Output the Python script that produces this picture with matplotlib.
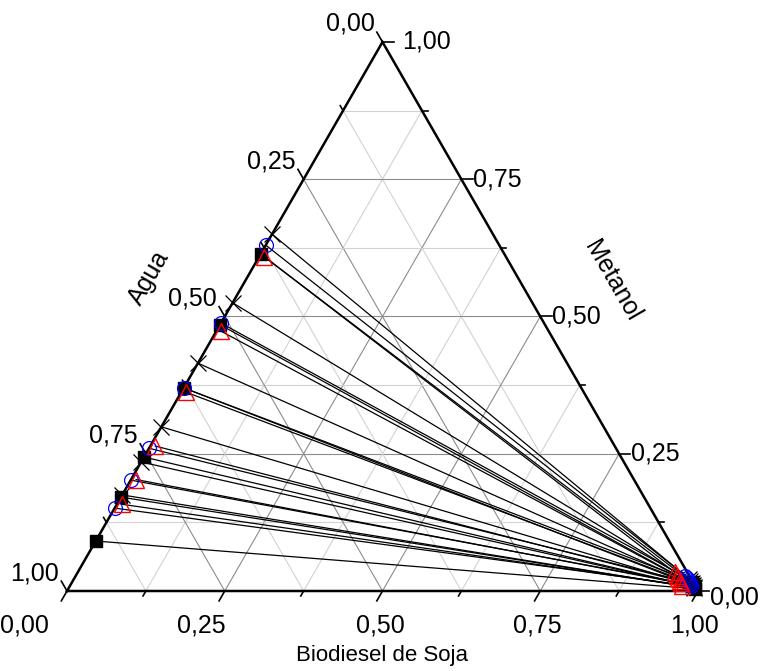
import numpy as np
import matplotlib.pyplot as plt

plt.rcParams['font.family'] = ['Liberation Sans', 'DejaVu Sans']

S3 = np.sqrt(3) / 2

# fase aquosa (lado Agua-Metanol): fracao de agua; fase biodiesel (canto direito): metanol e agua
sq_agua_esq = [0.386, 0.515, 0.630, 0.756, 0.829, 0.909]
sq_met_dir = [0.016, 0.013, 0.010, 0.008, 0.006, 0.004]
sq_agua_dir = [0.002, 0.002, 0.002, 0.002, 0.002, 0.002]

ci_agua_esq = [0.370, 0.512, 0.630, 0.740, 0.798, 0.849]
ci_met_dir = [0.028, 0.024, 0.020, 0.016, 0.012, 0.009]
ci_agua_dir = [0.006, 0.006, 0.006, 0.006, 0.006, 0.006]

tr_agua_esq = [0.383, 0.519, 0.630, 0.728, 0.789, 0.834]
tr_bio_esq = [0.008, 0.008, 0.008, 0.008, 0.008, 0.008]
tr_met_dir = [0.034, 0.028, 0.023, 0.018, 0.014, 0.010]
tr_agua_dir = [0.020, 0.020, 0.020, 0.020, 0.020, 0.020]

xx_agua_esq = [0.350, 0.475, 0.585, 0.701, 0.765, 0.825]
xx_met_dir = [0.022, 0.018, 0.014, 0.011, 0.008, 0.006]
xx_agua_dir = [0.003, 0.003, 0.003, 0.003, 0.003, 0.003]

ticks = [0.0, 0.25, 0.5, 0.75, 1.0]
tick_lab = ['0,00', '0,25', '0,50', '0,75', '1,00']


def tern(b, m):
    b = np.asarray(b, float)
    m = np.asarray(m, float)
    return b + m / 2, m * S3


fig = plt.figure(figsize=(7.67, 6.71), dpi=100)
ax = fig.add_axes([67 / 767, (671 - 591) / 671, 631 / 767, 549 / 671])
ax.set_xlim(0, 1)
ax.set_ylim(0, S3)
ax.axis('off')

# grade
for v in np.arange(0.125, 1.0, 0.125):
    major = abs(v / 0.25 - round(v / 0.25)) < 1e-6
    c = '#8c8c8c' if major else '#d2d2d2'
    for b, m in [([v, v], [0, 1 - v]), ([0, 1 - v], [v, v]), ([1 - v, 0], [0, 1 - v])]:
        x, y = tern(b, m)
        ax.plot(x, y, color=c, lw=0.8, zorder=1)

# bordas
x, y = tern([0, 1, 0, 0], [0, 0, 1, 0])
ax.plot(x, y, color='black', lw=1.8, zorder=4, solid_joinstyle='miter', clip_on=False)

# marcas dos eixos
for v in np.arange(0, 1.0001, 0.125):
    L = 0.018 if abs(v / 0.25 - round(v / 0.25)) < 1e-6 else 0.009
    # biodiesel (baixo)
    x0, y0 = tern(v, 0)
    ax.plot([x0, x0 - 0.5 * L], [y0, y0 - S3 * L], color='black', lw=1.2, clip_on=False)
    # agua (esquerda)
    x0, y0 = tern(0, 1 - v)
    ax.plot([x0, x0 - 0.5 * L], [y0, y0 + S3 * L], color='black', lw=1.2, clip_on=False)
    # metanol (direita)
    x0, y0 = tern(1 - v, v)
    ax.plot([x0, x0 + L], [y0, y0], color='black', lw=1.2, clip_on=False)

fs = 18
dx_baixo = [-43, -23, -2, -3, -3]
dx_dir = [12, 12, 12, 12, 20]
dy_dir = [-6, 0, 0, 0, 0]
for i, (v, lab) in enumerate(zip(ticks, tick_lab)):
    ax.annotate(lab, tern(v, 0), xytext=(dx_baixo[i], -35), textcoords='offset pixels',
                ha='center', va='center', fontsize=fs)
    ax.annotate(lab, tern(0, 1 - v), xytext=(-8, 6), textcoords='offset pixels',
                ha='right', va='bottom', fontsize=fs)
    ax.annotate(lab, tern(1 - v, v), xytext=(dx_dir[i], dy_dir[i]), textcoords='offset pixels',
                ha='left', va='center', fontsize=fs)

fig.text(382 / 767, 1 - 655 / 671, 'Biodiesel de Soja', ha='center', va='center', fontsize=16)
fig.text(149 / 767, 1 - 278 / 671, 'Agua', ha='center', va='center', fontsize=18, rotation=60)
fig.text(612 / 767, 1 - 281 / 671, 'Metanol', ha='center', va='center', fontsize=18, rotation=-60)

# linhas de amarracao
series = [
    (np.zeros(6), 1 - np.array(sq_agua_esq), 1 - np.array(sq_met_dir) - sq_agua_dir, sq_met_dir,
     dict(marker='s', ms=8, mfc='black', mec='black')),
    (np.zeros(6), 1 - np.array(xx_agua_esq), 1 - np.array(xx_met_dir) - xx_agua_dir, xx_met_dir,
     dict(marker='x', ms=12, mec='black', mew=0.9)),
    (np.zeros(6), 1 - np.array(ci_agua_esq), 1 - np.array(ci_met_dir) - ci_agua_dir, ci_met_dir,
     dict(marker='o', ms=10, mfc='none', mec='blue', mew=0.9)),
    (np.array(tr_bio_esq), 1 - np.array(tr_agua_esq) - tr_bio_esq,
     1 - np.array(tr_met_dir) - tr_agua_dir, tr_met_dir,
     dict(marker='^', ms=11, mfc='none', mec='red', mew=1.0)),
]
for b1, m1, b2, m2, st in series:
    x1, y1 = tern(b1, m1)
    x2, y2 = tern(b2, m2)
    for i in range(len(x1)):
        ax.plot([x1[i], x2[i]], [y1[i], y2[i]], color='black', lw=0.9, zorder=3)
    ax.plot(np.r_[x1, x2], np.r_[y1, y2], ls='none', zorder=5, clip_on=False, **st)

fig.savefig('out.png', dpi=100)
